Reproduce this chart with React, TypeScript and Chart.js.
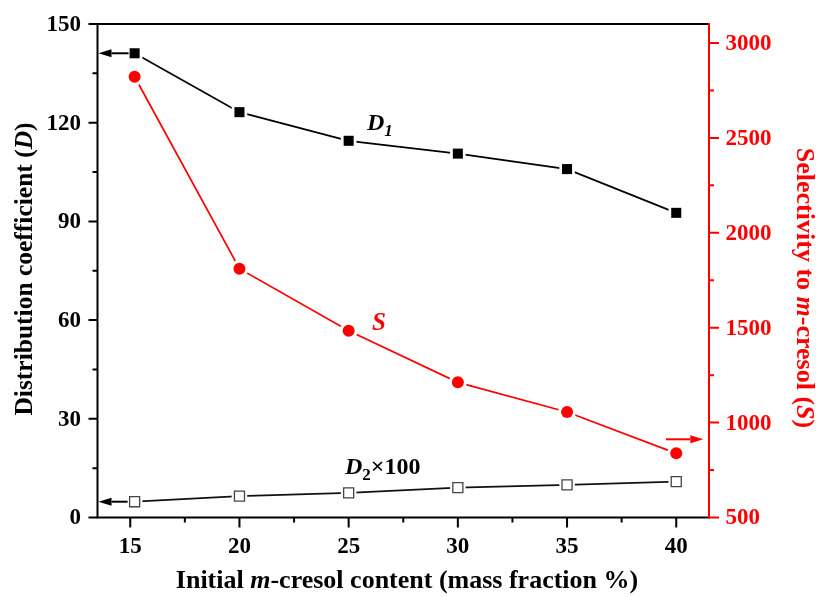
import React, { useEffect, useRef } from "react";
import { Chart, registerables } from "chart.js";

Chart.register(...registerables);

// ---- data ----
const xValues = [15.2, 20, 25, 30, 35, 40];
const d1Values = [141.1, 123.2, 114.5, 110.6, 105.9, 92.6];
const d2x100Values = [4.8, 6.5, 7.5, 9.1, 9.9, 10.9];
const sValues = [2822, 1811, 1484, 1212, 1056, 838];

const xTicks = [15, 20, 25, 30, 35, 40];
const xMinorTicks = [17.5, 22.5, 27.5, 32.5, 37.5];
const leftTicks = [0, 30, 60, 90, 120, 150];
const leftMinorTicks = [15, 45, 75, 105, 135];
const rightTicks = [500, 1000, 1500, 2000, 2500, 3000];
const rightMinorTicks = [750, 1250, 1750, 2250, 2750];

const FONT = '"Liberation Serif", "Times New Roman", serif';
const RED = "#ff0000";

type Part = { t: string; italic?: boolean; size?: number; dy?: number };

function richWidth(ctx: CanvasRenderingContext2D, parts: Part[], base: number) {
  let w = 0;
  for (const p of parts) {
    ctx.font = `${p.italic ? "italic " : ""}bold ${p.size ?? base}px ${FONT}`;
    w += ctx.measureText(p.t).width;
  }
  return w;
}

function drawRich(
  ctx: CanvasRenderingContext2D,
  parts: Part[],
  x: number,
  y: number,
  base: number,
  align: "left" | "center",
  color: string
) {
  const total = richWidth(ctx, parts, base);
  let cx = align === "center" ? x - total / 2 : x;
  ctx.fillStyle = color;
  ctx.textBaseline = "alphabetic";
  ctx.textAlign = "left";
  for (const p of parts) {
    ctx.font = `${p.italic ? "italic " : ""}bold ${p.size ?? base}px ${FONT}`;
    ctx.fillText(p.t, cx, y + (p.dy ?? 0));
    cx += ctx.measureText(p.t).width;
  }
}

function arrow(ctx: CanvasRenderingContext2D, x1: number, x2: number, y: number, color: string) {
  const dir = Math.sign(x2 - x1);
  const headLen = 13;
  const half = 4;
  ctx.save();
  ctx.strokeStyle = color;
  ctx.fillStyle = color;
  ctx.lineWidth = 2;
  ctx.beginPath();
  ctx.moveTo(x1, y);
  ctx.lineTo(x2 - dir * headLen, y);
  ctx.stroke();
  ctx.beginPath();
  ctx.moveTo(x2, y);
  ctx.lineTo(x2 - dir * headLen, y - half);
  ctx.lineTo(x2 - dir * headLen, y + half);
  ctx.closePath();
  ctx.fill();
  ctx.restore();
}

const decorPlugin = {
  id: "decor",
  beforeDraw(chart: any) {
    const ctx = chart.ctx as CanvasRenderingContext2D;
    ctx.save();
    ctx.fillStyle = "#fff";
    ctx.fillRect(0, 0, chart.width, chart.height);
    ctx.restore();
  },
  afterDraw(chart: any) {
    const ctx = chart.ctx as CanvasRenderingContext2D;
    const { left, right, top, bottom } = chart.chartArea;
    const xs = chart.scales.x;
    const ys = chart.scales.y;
    const y2 = chart.scales.y2;
    ctx.save();
    ctx.lineCap = "butt";

    // frame
    ctx.lineWidth = 2;
    ctx.strokeStyle = "#000";
    ctx.beginPath();
    ctx.moveTo(left, top);
    ctx.lineTo(right, top);
    ctx.moveTo(left, top - 1);
    ctx.lineTo(left, bottom + 1);
    ctx.moveTo(left, bottom);
    ctx.lineTo(right, bottom);
    ctx.stroke();
    ctx.strokeStyle = RED;
    ctx.beginPath();
    ctx.moveTo(right, top - 1);
    ctx.lineTo(right, bottom + 1);
    ctx.stroke();

    // left + bottom ticks
    ctx.strokeStyle = "#000";
    ctx.beginPath();
    for (const v of leftTicks) {
      const py = ys.getPixelForValue(v);
      ctx.moveTo(left - 9, py);
      ctx.lineTo(left, py);
    }
    for (const v of leftMinorTicks) {
      const py = ys.getPixelForValue(v);
      ctx.moveTo(left - 5, py);
      ctx.lineTo(left, py);
    }
    for (const v of xTicks) {
      const px = xs.getPixelForValue(v);
      ctx.moveTo(px, bottom);
      ctx.lineTo(px, bottom + 10);
    }
    for (const v of xMinorTicks) {
      const px = xs.getPixelForValue(v);
      ctx.moveTo(px, bottom);
      ctx.lineTo(px, bottom + 5);
    }
    ctx.stroke();
    // right ticks
    ctx.strokeStyle = RED;
    ctx.beginPath();
    for (const v of rightTicks) {
      const py = y2.getPixelForValue(v);
      ctx.moveTo(right, py);
      ctx.lineTo(right + 10, py);
    }
    for (const v of rightMinorTicks) {
      const py = y2.getPixelForValue(v);
      ctx.moveTo(right, py);
      ctx.lineTo(right + 5, py);
    }
    ctx.stroke();

    // tick labels
    ctx.font = `bold 23px ${FONT}`;
    ctx.fillStyle = "#000";
    ctx.textAlign = "right";
    ctx.textBaseline = "middle";
    for (const v of leftTicks) {
      ctx.fillText(String(v), left - 16.5, ys.getPixelForValue(v) + 1);
    }
    ctx.textAlign = "center";
    ctx.textBaseline = "alphabetic";
    for (const v of xTicks) {
      ctx.fillText(String(v), xs.getPixelForValue(v), bottom + 35.5);
    }
    ctx.fillStyle = RED;
    ctx.textAlign = "left";
    ctx.textBaseline = "middle";
    for (const v of rightTicks) {
      ctx.fillText(String(v), right + 16.5, y2.getPixelForValue(v) + 1);
    }

    // axis titles
    ctx.save();
    ctx.translate(31.5, 269);
    ctx.rotate(-Math.PI / 2);
    drawRich(
      ctx,
      [{ t: "Distribution coefficient (" }, { t: "D", italic: true }, { t: ")" }],
      0,
      0,
      25.5,
      "center",
      "#000"
    );
    ctx.restore();

    ctx.save();
    ctx.translate(797, 288);
    ctx.rotate(Math.PI / 2);
    drawRich(
      ctx,
      [
        { t: "Selectivity to " },
        { t: "m", italic: true },
        { t: "-cresol (" },
        { t: "S", italic: true },
        { t: ")" },
      ],
      0,
      0,
      26,
      "center",
      RED
    );
    ctx.restore();

    drawRich(
      ctx,
      [
        { t: "Initial " },
        { t: "m", italic: true },
        { t: "-cresol content (mass fraction %)" },
      ],
      407,
      588,
      26,
      "center",
      "#000"
    );

    // series annotations
    drawRich(
      ctx,
      [
        { t: "D", italic: true },
        { t: "1", italic: true, size: 17, dy: 6 },
      ],
      xs.getPixelForValue(25.84),
      ys.getPixelForValue(117.8),
      24,
      "left",
      "#000"
    );
    drawRich(
      ctx,
      [{ t: "S", italic: true }],
      xs.getPixelForValue(26.07),
      ys.getPixelForValue(57.0),
      25,
      "left",
      RED
    );
    drawRich(
      ctx,
      [
        { t: "D", italic: true },
        { t: "2", size: 17, dy: 6 },
        { t: "×100" },
      ],
      xs.getPixelForValue(24.83),
      ys.getPixelForValue(13.2),
      24,
      "left",
      "#000"
    );

    // arrows
    arrow(ctx, xs.getPixelForValue(xValues[0]) - 6, left + 1, ys.getPixelForValue(d1Values[0]), "#000");
    arrow(ctx, xs.getPixelForValue(xValues[0]) - 7, left + 1, ys.getPixelForValue(d2x100Values[0]), "#000");
    arrow(ctx, xs.getPixelForValue(39.53), xs.getPixelForValue(41.24), y2.getPixelForValue(912), RED);

    ctx.restore();
  },
};

const pts = (vals: number[]) => xValues.map((x, i) => ({ x, y: vals[i] }));

export default function App() {
  const ref = useRef<HTMLCanvasElement | null>(null);
  useEffect(() => {
    if (!ref.current) return;
    const lineBase = { showLine: true, borderWidth: 1.7, pointBorderWidth: 0, pointBackgroundColor: "#fff" };
    const chart = new Chart(ref.current, {
      type: "line",
      data: {
        datasets: [
          // lines with white halos (gaps around markers)
          { ...lineBase, label: "S line", data: pts(sValues), yAxisID: "y2", borderColor: RED, pointStyle: "circle", pointRadius: 9, order: 5 },
          { ...lineBase, label: "D1 line", data: pts(d1Values), yAxisID: "y", borderColor: "#000", pointStyle: "rect", pointRadius: 11, order: 4 },
          { ...lineBase, label: "D2 line", data: pts(d2x100Values), yAxisID: "y", borderColor: "#111", pointStyle: "rect", pointRadius: 11, order: 3 },
          // markers
          {
            label: "S",
            data: pts(sValues),
            yAxisID: "y2",
            showLine: false,
            pointStyle: "circle",
            pointRadius: 6,
            pointBorderWidth: 0,
            pointBackgroundColor: RED,
            order: 1,
          },
          {
            label: "D1",
            data: pts(d1Values),
            yAxisID: "y",
            showLine: false,
            pointStyle: "rect",
            pointRadius: 7.1,
            pointBorderWidth: 0,
            pointBackgroundColor: "#000",
            order: 1,
          },
          {
            label: "D2x100",
            data: pts(d2x100Values),
            yAxisID: "y",
            showLine: false,
            pointStyle: "rect",
            pointRadius: 7.1,
            pointBorderWidth: 1.3,
            pointBorderColor: "#444",
            pointBackgroundColor: "#fff",
            order: 1,
          },
        ],
      },
      options: {
        animation: false,
        responsive: false,
        devicePixelRatio: 1,
        clip: false as any,
        layout: { padding: { left: 97.5, right: 107, top: 24, bottom: 79.5 } },
        plugins: { legend: { display: false }, tooltip: { enabled: false } },
        scales: {
          x: { type: "linear", min: 13.5, max: 41.5, display: false },
          y: { type: "linear", position: "left", min: 0, max: 150, display: false },
          y2: { type: "linear", position: "right", min: 500, max: 3100, display: false },
        },
      },
      plugins: [decorPlugin],
    });
    return () => chart.destroy();
  }, []);
  return (
    <div style={{ position: "absolute", left: 0, top: 0, width: 816, height: 597 }}>
      <canvas ref={ref} width={816} height={597} style={{ display: "block", width: 816, height: 597 }} />
    </div>
  );
}
